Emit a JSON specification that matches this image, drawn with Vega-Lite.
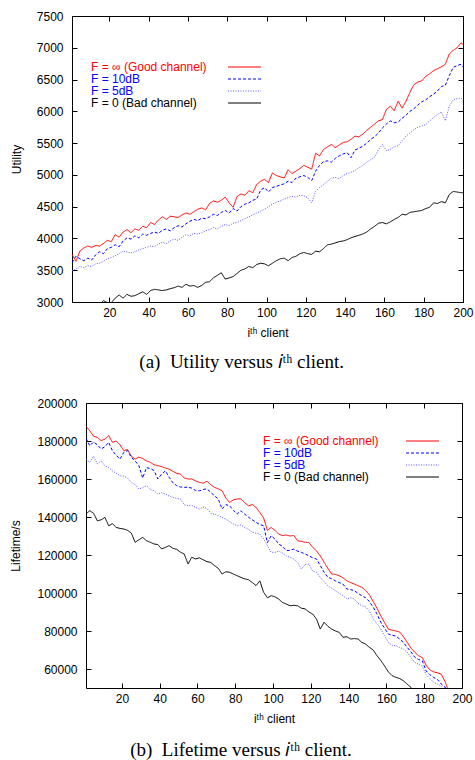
{
  "$schema": "https://vega.github.io/schema/vega-lite/v6.json",
  "padding": {"left": 8, "top": 9, "right": 2, "bottom": 0},
  "background": "white",
  "config": {
    "view": {"stroke": "#000000", "strokeWidth": 1},
    "axis": {"grid": false, "domain": false, "labelFont": "Liberation Sans", "labelFontSize": 12, "labelColor": "#000000", "titleFont": "Liberation Sans", "titleFontSize": 12, "titleFontWeight": "normal", "titleColor": "#000000", "tickColor": "#000000", "tickSize": -5, "tickWidth": 1},
    "axisX": {"labelPadding": 10, "labelFlush": false},
    "axisY": {"labelPadding": 14},
    "legend": {"orient": "none", "symbolType": "M-4,0H4", "symbolSize": 68, "rowPadding": 0, "padding": 0, "labelFont": "Liberation Sans", "labelFontSize": 12, "labelLimit": 300, "symbolStrokeWidth": 1.2},
    "title": {"font": "Liberation Serif", "fontSize": 19, "fontWeight": "normal", "color": "#000000", "orient": "bottom", "frame": "bounds", "anchor": "middle", "offset": 15}
  },
  "datasets": {
    "ua": [
      {"x":1,"g":3750,"d10":3620,"d5":3490,"b":2820},
      {"x":3,"g":3640,"d10":3720,"d5":3520,"b":2850},
      {"x":5,"g":3800,"d10":3680,"d5":3560,"b":2870},
      {"x":7,"g":3850,"d10":3650,"d5":3540,"b":2860},
      {"x":9,"g":3880,"d10":3690,"d5":3570,"b":2900},
      {"x":11,"g":3860,"d10":3660,"d5":3560,"b":2920},
      {"x":13,"g":3890,"d10":3740,"d5":3600,"b":2940},
      {"x":15,"g":3880,"d10":3790,"d5":3610,"b":2960},
      {"x":17,"g":3920,"d10":3760,"d5":3640,"b":3020},
      {"x":19,"g":3970,"d10":3840,"d5":3680,"b":2990},
      {"x":21,"g":3950,"d10":3860,"d5":3700,"b":2990},
      {"x":23,"g":4060,"d10":3900,"d5":3730,"b":3060},
      {"x":25,"g":4020,"d10":3870,"d5":3760,"b":3110},
      {"x":27,"g":4100,"d10":3960,"d5":3800,"b":3060},
      {"x":29,"g":4140,"d10":4010,"d5":3790,"b":3120},
      {"x":31,"g":4090,"d10":3990,"d5":3770,"b":3090},
      {"x":33,"g":4150,"d10":4040,"d5":3790,"b":3100},
      {"x":35,"g":4130,"d10":4010,"d5":3820,"b":3130},
      {"x":37,"g":4190,"d10":4070,"d5":3840,"b":3160},
      {"x":39,"g":4170,"d10":4050,"d5":3860,"b":3120},
      {"x":41,"g":4250,"d10":4080,"d5":3880,"b":3180},
      {"x":43,"g":4220,"d10":4100,"d5":3870,"b":3200},
      {"x":45,"g":4290,"d10":4080,"d5":3910,"b":3190},
      {"x":47,"g":4340,"d10":4130,"d5":3940,"b":3180},
      {"x":49,"g":4300,"d10":4150,"d5":3920,"b":3190},
      {"x":51,"g":4350,"d10":4120,"d5":3960,"b":3210},
      {"x":53,"g":4340,"d10":4170,"d5":3990,"b":3225},
      {"x":55,"g":4330,"d10":4200,"d5":3970,"b":3250},
      {"x":57,"g":4370,"d10":4180,"d5":4020,"b":3230},
      {"x":59,"g":4400,"d10":4230,"d5":4060,"b":3280},
      {"x":61,"g":4380,"d10":4270,"d5":4040,"b":3250},
      {"x":63,"g":4420,"d10":4300,"d5":4080,"b":3260},
      {"x":65,"g":4460,"d10":4280,"d5":4070,"b":3230},
      {"x":67,"g":4480,"d10":4320,"d5":4090,"b":3260},
      {"x":69,"g":4450,"d10":4310,"d5":4120,"b":3310},
      {"x":71,"g":4550,"d10":4340,"d5":4140,"b":3320},
      {"x":73,"g":4590,"d10":4380,"d5":4170,"b":3380},
      {"x":75,"g":4570,"d10":4360,"d5":4150,"b":3420},
      {"x":77,"g":4600,"d10":4410,"d5":4190,"b":3460},
      {"x":79,"g":4650,"d10":4440,"d5":4220,"b":3360},
      {"x":81,"g":4560,"d10":4400,"d5":4200,"b":3380},
      {"x":83,"g":4490,"d10":4470,"d5":4240,"b":3400},
      {"x":85,"g":4660,"d10":4430,"d5":4250,"b":3450},
      {"x":87,"g":4700,"d10":4500,"d5":4280,"b":3500},
      {"x":89,"g":4680,"d10":4540,"d5":4310,"b":3520},
      {"x":91,"g":4750,"d10":4560,"d5":4340,"b":3560},
      {"x":93,"g":4720,"d10":4600,"d5":4370,"b":3540},
      {"x":95,"g":4850,"d10":4620,"d5":4400,"b":3590},
      {"x":97,"g":4900,"d10":4760,"d5":4430,"b":3610},
      {"x":99,"g":4930,"d10":4800,"d5":4460,"b":3600},
      {"x":101,"g":4880,"d10":4730,"d5":4500,"b":3570},
      {"x":103,"g":5030,"d10":4800,"d5":4540,"b":3610},
      {"x":105,"g":4990,"d10":4820,"d5":4570,"b":3650},
      {"x":107,"g":4970,"d10":4840,"d5":4590,"b":3680},
      {"x":109,"g":4950,"d10":4860,"d5":4620,"b":3690},
      {"x":111,"g":5080,"d10":4900,"d5":4640,"b":3650},
      {"x":113,"g":5020,"d10":4880,"d5":4660,"b":3700},
      {"x":115,"g":5060,"d10":4950,"d5":4650,"b":3720},
      {"x":117,"g":5100,"d10":4970,"d5":4680,"b":3760},
      {"x":119,"g":5150,"d10":4990,"d5":4670,"b":3780},
      {"x":121,"g":5120,"d10":4960,"d5":4640,"b":3760},
      {"x":123,"g":5090,"d10":4910,"d5":4560,"b":3750},
      {"x":125,"g":5340,"d10":5060,"d5":4740,"b":3800},
      {"x":127,"g":5300,"d10":5150,"d5":4800,"b":3790},
      {"x":129,"g":5400,"d10":5210,"d5":4850,"b":3840},
      {"x":131,"g":5440,"d10":5220,"d5":4900,"b":3900},
      {"x":133,"g":5480,"d10":5200,"d5":4950,"b":3910},
      {"x":135,"g":5430,"d10":5260,"d5":4960,"b":3930},
      {"x":137,"g":5470,"d10":5300,"d5":4940,"b":3950},
      {"x":139,"g":5510,"d10":5330,"d5":4990,"b":3960},
      {"x":141,"g":5520,"d10":5350,"d5":5020,"b":3980},
      {"x":143,"g":5560,"d10":5270,"d5":5040,"b":4010},
      {"x":145,"g":5610,"d10":5390,"d5":5070,"b":4030},
      {"x":147,"g":5600,"d10":5420,"d5":5110,"b":4050},
      {"x":149,"g":5640,"d10":5450,"d5":5150,"b":4070},
      {"x":151,"g":5700,"d10":5500,"d5":5200,"b":4100},
      {"x":153,"g":5750,"d10":5560,"d5":5240,"b":4150},
      {"x":155,"g":5800,"d10":5600,"d5":5280,"b":4190},
      {"x":157,"g":5850,"d10":5660,"d5":5400,"b":4240},
      {"x":159,"g":5870,"d10":5740,"d5":5480,"b":4250},
      {"x":161,"g":6030,"d10":5800,"d5":5380,"b":4230},
      {"x":163,"g":6080,"d10":5850,"d5":5400,"b":4260},
      {"x":165,"g":6010,"d10":5820,"d5":5440,"b":4300},
      {"x":167,"g":6160,"d10":5830,"d5":5460,"b":4330},
      {"x":169,"g":6050,"d10":5890,"d5":5540,"b":4380},
      {"x":171,"g":6160,"d10":5940,"d5":5610,"b":4370},
      {"x":173,"g":6300,"d10":6000,"d5":5660,"b":4410},
      {"x":175,"g":6420,"d10":6040,"d5":5710,"b":4420},
      {"x":177,"g":6460,"d10":6100,"d5":5750,"b":4430},
      {"x":179,"g":6480,"d10":6150,"d5":5770,"b":4440},
      {"x":181,"g":6550,"d10":6180,"d5":5790,"b":4470},
      {"x":183,"g":6590,"d10":6230,"d5":5850,"b":4490},
      {"x":185,"g":6640,"d10":6270,"d5":5900,"b":4560},
      {"x":187,"g":6670,"d10":6320,"d5":5950,"b":4550},
      {"x":189,"g":6700,"d10":6390,"d5":5990,"b":4580},
      {"x":191,"g":6740,"d10":6410,"d5":5850,"b":4560},
      {"x":193,"g":6900,"d10":6560,"d5":6080,"b":4690},
      {"x":195,"g":6960,"d10":6690,"d5":6180,"b":4740},
      {"x":197,"g":7000,"d10":6720,"d5":6200,"b":4730},
      {"x":199,"g":7080,"d10":6740,"d5":6210,"b":4720},
      {"x":200,"g":7050,"d10":6700,"d5":6170,"b":4720}
    ],
    "lb": [
      {"x":1,"g":187700,"d10":181400,"d5":170500,"b":141600},
      {"x":3,"g":185400,"d10":177500,"d5":168800,"b":143300},
      {"x":5,"g":182500,"d10":179500,"d5":172000,"b":142000},
      {"x":7,"g":181900,"d10":178000,"d5":168000,"b":138000},
      {"x":9,"g":180200,"d10":175800,"d5":169500,"b":138500},
      {"x":11,"g":181000,"d10":177000,"d5":167000,"b":139800},
      {"x":13,"g":182800,"d10":179300,"d5":166000,"b":135400},
      {"x":15,"g":179300,"d10":174900,"d5":164300,"b":136500},
      {"x":17,"g":180000,"d10":172500,"d5":163000,"b":134500},
      {"x":19,"g":178000,"d10":170500,"d5":161700,"b":134000},
      {"x":21,"g":174900,"d10":174000,"d5":161500,"b":133700},
      {"x":23,"g":175500,"d10":175000,"d5":160500,"b":133000},
      {"x":25,"g":172000,"d10":171400,"d5":158200,"b":131500},
      {"x":27,"g":170500,"d10":169500,"d5":157000,"b":126700},
      {"x":29,"g":171500,"d10":167000,"d5":154700,"b":128000},
      {"x":31,"g":170800,"d10":160500,"d5":155500,"b":129300},
      {"x":33,"g":169500,"d10":166000,"d5":156500,"b":127500},
      {"x":35,"g":168800,"d10":165500,"d5":154500,"b":126700},
      {"x":37,"g":167500,"d10":164500,"d5":153800,"b":125800},
      {"x":39,"g":167000,"d10":160000,"d5":152100,"b":125500},
      {"x":41,"g":166500,"d10":162500,"d5":152800,"b":123200},
      {"x":43,"g":165800,"d10":164300,"d5":152100,"b":124000},
      {"x":45,"g":165200,"d10":160900,"d5":151000,"b":124900},
      {"x":47,"g":164000,"d10":158000,"d5":150300,"b":123500},
      {"x":49,"g":163000,"d10":156500,"d5":149800,"b":123000},
      {"x":51,"g":162600,"d10":155800,"d5":149500,"b":121500},
      {"x":53,"g":160500,"d10":155600,"d5":146500,"b":120500},
      {"x":55,"g":160000,"d10":155700,"d5":145900,"b":115300},
      {"x":57,"g":160000,"d10":155200,"d5":146200,"b":118800},
      {"x":59,"g":159000,"d10":153900,"d5":145000,"b":117900},
      {"x":61,"g":158200,"d10":153800,"d5":144200,"b":118500},
      {"x":63,"g":157800,"d10":154500,"d5":145200,"b":117500},
      {"x":65,"g":158800,"d10":154800,"d5":144500,"b":116500},
      {"x":67,"g":157000,"d10":153000,"d5":142000,"b":116100},
      {"x":69,"g":155600,"d10":151200,"d5":141500,"b":114400},
      {"x":71,"g":154800,"d10":149500,"d5":140700,"b":113000},
      {"x":73,"g":153800,"d10":144200,"d5":139800,"b":110000},
      {"x":75,"g":150000,"d10":146500,"d5":138900,"b":111200},
      {"x":77,"g":147700,"d10":145900,"d5":137500,"b":110900},
      {"x":79,"g":149000,"d10":143500,"d5":136300,"b":110000},
      {"x":81,"g":149500,"d10":141600,"d5":135400,"b":109100},
      {"x":83,"g":149500,"d10":143300,"d5":135800,"b":108200},
      {"x":85,"g":147500,"d10":141500,"d5":134500,"b":107400},
      {"x":87,"g":145900,"d10":139900,"d5":133500,"b":107000},
      {"x":89,"g":146500,"d10":138500,"d5":132000,"b":105500},
      {"x":91,"g":145100,"d10":137200,"d5":131500,"b":103900},
      {"x":93,"g":142400,"d10":136000,"d5":131000,"b":106400},
      {"x":95,"g":139500,"d10":135400,"d5":128500,"b":100400},
      {"x":97,"g":133000,"d10":126500,"d5":125000,"b":97500},
      {"x":99,"g":134500,"d10":130100,"d5":121400,"b":98600},
      {"x":101,"g":133000,"d10":128400,"d5":121400,"b":98000},
      {"x":103,"g":131000,"d10":125800,"d5":122000,"b":96800},
      {"x":105,"g":130200,"d10":124500,"d5":121000,"b":95000},
      {"x":107,"g":130500,"d10":122300,"d5":119500,"b":94200},
      {"x":109,"g":130000,"d10":122500,"d5":118800,"b":93300},
      {"x":111,"g":130300,"d10":123100,"d5":117900,"b":93500},
      {"x":113,"g":127500,"d10":122000,"d5":116000,"b":93300},
      {"x":115,"g":127200,"d10":121400,"d5":112600,"b":92000},
      {"x":117,"g":126700,"d10":120500,"d5":115000,"b":91600},
      {"x":119,"g":126500,"d10":119600,"d5":115200,"b":90000},
      {"x":121,"g":124000,"d10":118500,"d5":111500,"b":88900},
      {"x":123,"g":122200,"d10":117900,"d5":110900,"b":86300},
      {"x":125,"g":119500,"d10":114400,"d5":108250,"b":81000},
      {"x":127,"g":116200,"d10":111000,"d5":106000,"b":84600},
      {"x":129,"g":113000,"d10":108300,"d5":103800,"b":82500},
      {"x":131,"g":110000,"d10":107500,"d5":102500,"b":81000},
      {"x":133,"g":109800,"d10":106400,"d5":101200,"b":80000},
      {"x":135,"g":109100,"d10":105500,"d5":99800,"b":79300},
      {"x":137,"g":108000,"d10":104700,"d5":98600,"b":76700},
      {"x":139,"g":106500,"d10":102100,"d5":96900,"b":77000},
      {"x":141,"g":105500,"d10":101800,"d5":97500,"b":75800},
      {"x":143,"g":104700,"d10":101200,"d5":96800,"b":76000},
      {"x":145,"g":103800,"d10":99800,"d5":94500,"b":75800},
      {"x":147,"g":103000,"d10":98600,"d5":93300,"b":74000},
      {"x":149,"g":101300,"d10":97500,"d5":92700,"b":73100},
      {"x":151,"g":99000,"d10":95500,"d5":90500,"b":71400},
      {"x":153,"g":95500,"d10":92500,"d5":86300,"b":70000},
      {"x":155,"g":92000,"d10":89000,"d5":84000,"b":67000},
      {"x":157,"g":88000,"d10":84600,"d5":81000,"b":64500},
      {"x":159,"g":84500,"d10":81500,"d5":77500,"b":61700},
      {"x":161,"g":81000,"d10":78400,"d5":74000,"b":58500},
      {"x":163,"g":80500,"d10":77800,"d5":72500,"b":56500},
      {"x":165,"g":80000,"d10":77300,"d5":72200,"b":55600},
      {"x":167,"g":79500,"d10":75800,"d5":71400,"b":55000},
      {"x":169,"g":77000,"d10":74000,"d5":70500,"b":53800},
      {"x":171,"g":74000,"d10":71400,"d5":68800,"b":52000},
      {"x":173,"g":71000,"d10":69000,"d5":66000,"b":50300},
      {"x":175,"g":68800,"d10":66200,"d5":63500,"b":48000},
      {"x":177,"g":67000,"d10":65000,"d5":62500,"b":46000},
      {"x":179,"g":66000,"d10":64300,"d5":61500,"b":44000},
      {"x":181,"g":62000,"d10":59000,"d5":57000,"b":42000},
      {"x":183,"g":59500,"d10":57000,"d5":55000,"b":40000},
      {"x":185,"g":58500,"d10":55600,"d5":53000,"b":38000},
      {"x":187,"g":58000,"d10":54500,"d5":52100,"b":37000},
      {"x":189,"g":57300,"d10":52100,"d5":51000,"b":36000},
      {"x":191,"g":53500,"d10":50500,"d5":49000,"b":35000},
      {"x":193,"g":48000,"d10":46500,"d5":46000,"b":34000},
      {"x":195,"g":44000,"d10":44000,"d5":44000,"b":33000},
      {"x":197,"g":42000,"d10":42000,"d5":42000,"b":32000},
      {"x":199,"g":40000,"d10":40000,"d5":40000,"b":31000},
      {"x":200,"g":39500,"d10":39500,"d5":39500,"b":30500}
    ]
  },
  "columns": 1,
  "spacing": 23,
  "resolve": {
    "scale": {"x": "independent", "y": "independent", "color": "independent", "strokeDash": "independent", "strokeWidth": "independent"},
    "legend": {"color": "independent", "strokeDash": "independent", "strokeWidth": "independent"}
  },
  "concat": [
    {
      "spacing": 0,
      "resolve": {
        "scale": {"x": "independent", "y": "independent", "color": "independent", "strokeDash": "independent", "strokeWidth": "independent"},
        "legend": {"color": "independent", "strokeDash": "independent", "strokeWidth": "independent"}
      },
      "hconcat": [
        {
          "width": 1,
          "height": 1,
          "view": {"stroke": null},
          "data": {"values": [{"s": 0}]},
          "mark": {"type": "point", "size": 0, "opacity": 0},
          "encoding": {}
        },
        {
          "width": 391,
          "height": 286,
          "title": {"text": "(a)\u2002Utility versus 𝑖ᵗʰ client."},
          "data": {"name": "ua"},
          "transform": [{"fold": ["g", "d10", "d5", "b"], "as": ["k", "v"]}],
          "layer": [
            {
              "mark": {"type": "line", "clip": true},
              "encoding": {
                "x": {"field": "x", "type": "quantitative", "scale": {"domain": [1, 200], "nice": false, "zero": false}, "axis": {"values": [20, 40, 60, 80, 100, 120, 140, 160, 180, 200], "title": "iᵗʰ client", "titlePadding": 9}},
                "y": {"field": "v", "type": "quantitative", "scale": {"domain": [3000, 7500], "nice": false, "zero": false}, "axis": {"values": [3000, 3500, 4000, 4500, 5000, 5500, 6000, 6500, 7000, 7500], "title": "Utility", "titlePadding": 13, "format": "d"}},
                "color": {"field": "k", "type": "nominal", "scale": {"domain": ["g", "d10", "d5", "b"], "range": ["#ff0000", "#0000ff", "#5555ff", "#000000"]},
                  "legend": {"title": null, "legendX": 19, "legendY": 45, "symbolOffset": 147.5, "labelOffset": -159.5,
                    "labelExpr": "datum.value == 'g' ? 'F = ∞ (Good channel)' : datum.value == 'd10' ? 'F = 10dB' : datum.value == 'd5' ? 'F = 5dB' : 'F = 0 (Bad channel)'",
                    "encode": {"labels": {"update": {"fill": {"signal": "datum.value == 'b' ? '#000000' : (datum.value == 'g' ? '#ff0000' : '#0000ff')"}}}}}},
                "strokeDash": {"field": "k", "type": "nominal", "scale": {"domain": ["g", "d10", "d5", "b"], "range": [[1, 0], [3, 2], [1, 1.5], [1, 0]]}},
                "strokeWidth": {"field": "k", "type": "nominal", "scale": {"domain": ["g", "d10", "d5", "b"], "range": [1, 1, 1, 1.6]}}
              }
            },
            {
              "mark": {"type": "point", "opacity": 0, "size": 1},
              "encoding": {
                "x": {"field": "x", "type": "quantitative", "axis": {"orient": "top", "labels": false, "title": null, "values": [20, 40, 60, 80, 100, 120, 140, 160, 180, 200]}},
                "y": {"field": "v", "type": "quantitative", "axis": {"orient": "right", "labels": false, "title": null, "values": [3000, 3500, 4000, 4500, 5000, 5500, 6000, 6500, 7000, 7500]}}
              }
            }
          ],
          "resolve": {"axis": {"x": "independent", "y": "independent"}}
        }
      ]
    },
    {
      "spacing": 0,
      "resolve": {
        "scale": {"x": "independent", "y": "independent", "color": "independent", "strokeDash": "independent", "strokeWidth": "independent"},
        "legend": {"color": "independent", "strokeDash": "independent", "strokeWidth": "independent"}
      },
      "hconcat": [
        {
          "width": 1,
          "height": 1,
          "view": {"stroke": null},
          "data": {"values": [{"s": 0}]},
          "mark": {"type": "point", "size": 0, "opacity": 0},
          "encoding": {}
        },
        {
          "width": 376,
          "height": 285,
          "title": {"text": "(b)\u2002Lifetime versus 𝑖ᵗʰ client."},
          "data": {"name": "lb"},
          "transform": [{"fold": ["g", "d10", "d5", "b"], "as": ["k", "v"]}],
          "layer": [
            {
              "mark": {"type": "line", "clip": true},
              "encoding": {
                "x": {"field": "x", "type": "quantitative", "scale": {"domain": [1, 200], "nice": false, "zero": false}, "axis": {"values": [20, 40, 60, 80, 100, 120, 140, 160, 180, 200], "title": "iᵗʰ client", "titlePadding": 9}},
                "y": {"field": "v", "type": "quantitative", "scale": {"domain": [50000, 200000], "nice": false, "zero": false}, "axis": {"values": [60000, 80000, 100000, 120000, 140000, 160000, 180000, 200000], "title": "Lifetime/s", "titlePadding": 14, "format": "d"}},
                "color": {"field": "k", "type": "nominal", "scale": {"domain": ["g", "d10", "d5", "b"], "range": ["#ff0000", "#0000ff", "#5555ff", "#000000"]},
                  "legend": {"title": null, "legendX": 177, "legendY": 32, "symbolOffset": 153.5, "labelOffset": -165.5,
                    "labelExpr": "datum.value == 'g' ? 'F = ∞ (Good channel)' : datum.value == 'd10' ? 'F = 10dB' : datum.value == 'd5' ? 'F = 5dB' : 'F = 0 (Bad channel)'",
                    "encode": {"labels": {"update": {"fill": {"signal": "datum.value == 'b' ? '#000000' : (datum.value == 'g' ? '#ff0000' : '#0000ff')"}}}}}},
                "strokeDash": {"field": "k", "type": "nominal", "scale": {"domain": ["g", "d10", "d5", "b"], "range": [[1, 0], [3, 2], [1, 1.5], [1, 0]]}},
                "strokeWidth": {"field": "k", "type": "nominal", "scale": {"domain": ["g", "d10", "d5", "b"], "range": [1, 1, 1, 1.6]}}
              }
            },
            {
              "mark": {"type": "point", "opacity": 0, "size": 1},
              "encoding": {
                "x": {"field": "x", "type": "quantitative", "axis": {"orient": "top", "labels": false, "title": null, "values": [20, 40, 60, 80, 100, 120, 140, 160, 180, 200]}},
                "y": {"field": "v", "type": "quantitative", "axis": {"orient": "right", "labels": false, "title": null, "values": [60000, 80000, 100000, 120000, 140000, 160000, 180000, 200000]}}
              }
            }
          ],
          "resolve": {"axis": {"x": "independent", "y": "independent"}}
        }
      ]
    }
  ]
}
